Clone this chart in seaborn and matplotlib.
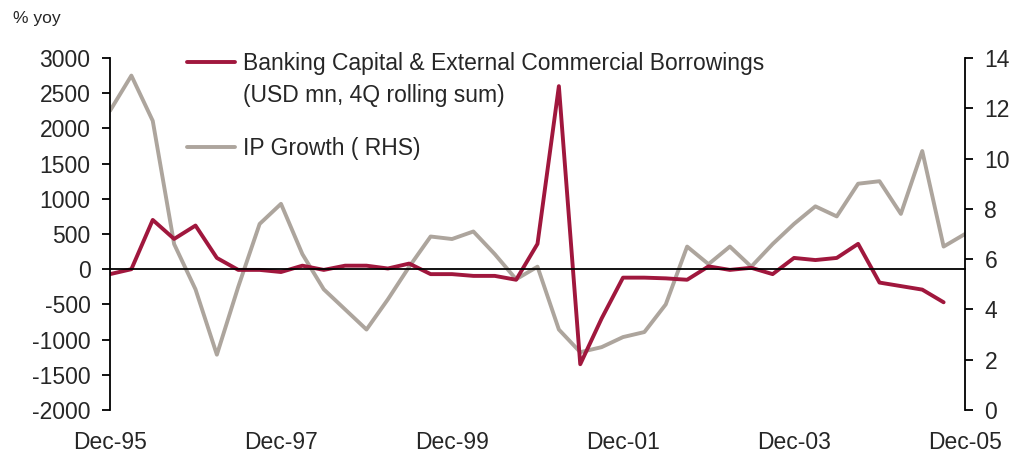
import matplotlib
matplotlib.use("Agg")
import matplotlib.pyplot as plt
from matplotlib.lines import Line2D
import seaborn as sns
import pandas as pd
import numpy as np

# Data: quarterly, Dec-95 .. Dec-05
tick_labels = ["Dec-95", "Dec-97", "Dec-99", "Dec-01", "Dec-03", "Dec-05"]
banking_ecb = [-70, 0, 700, 430, 620, 160, -10, -10, -40, 50,
               -10, 50, 50, 10, 80, -70, -70, -95, -95, -150,
               360, 2600, -1350, -700, -120, -120, -130, -150, 40, -10,
               20, -70, 160, 130, 160, 360, -190, -240, -290, -470]
ip_growth = [11.9, 13.3, 11.5, 6.6, 4.8, 2.2, 4.9, 7.4, 8.2, 6.2,
             4.8, 4.0, 3.2, 4.4, 5.7, 6.9, 6.8, 7.1, 6.2, 5.2,
             5.7, 3.2, 2.3, 2.5, 2.9, 3.1, 4.2, 6.5, 5.8, 6.5,
             5.7, 6.6, 7.4, 8.1, 7.7, 9.0, 9.1, 7.8, 10.3, 6.5,
             7.0]

red_label_1 = "Banking Capital & External Commercial Borrowings"
red_label_2 = "(USD mn, 4Q rolling sum)"
gray_label = "IP Growth ( RHS)"

RED = "#A0173D"
GRAY = "#ADA59D"

sns.set_style("white")
plt.rcParams["font.family"] = ["Liberation Sans", "DejaVu Sans"]
plt.rcParams["axes.unicode_minus"] = False

df_red = pd.DataFrame({"q": np.arange(len(banking_ecb)), "v": banking_ecb})
df_gray = pd.DataFrame({"q": np.arange(len(ip_growth)), "v": ip_growth})

fig = plt.figure(figsize=(10.26, 4.57), dpi=100)
ax = fig.add_axes([110/1026, 1-410/457, (965-110)/1026, (410-58)/457])
ax2 = ax.twinx()

lw = 2.8
sns.lineplot(data=df_gray, x="q", y="v", ax=ax2, color=GRAY, linewidth=lw)
sns.lineplot(data=df_red, x="q", y="v", ax=ax, color=RED, linewidth=lw)
ax.set_zorder(ax2.get_zorder() + 1)
ax.patch.set_visible(False)

n = len(ip_growth) - 1
ax.set_xlim(0, n)
ax.set_ylim(-2000, 3000)
ax.set_yticks(np.arange(-2000, 3001, 500))
ax2.set_ylim(0, 14)
ax2.set_yticks(np.arange(0, 15, 2))
for a in (ax, ax2):
    a.set_xlabel("")
    a.set_ylabel("")

fs = 16.5
for s in ["top", "right"]:
    ax.spines[s].set_visible(False)
for s in ["top", "left", "bottom"]:
    ax2.spines[s].set_visible(False)
ax.spines["left"].set_color("black")
ax.spines["left"].set_linewidth(1.3)
ax2.spines["right"].set_color("black")
ax2.spines["right"].set_linewidth(1.3)

# x axis drawn at zero
ax.spines["bottom"].set_position(("data", 0))
ax.spines["bottom"].set_color("black")
ax.spines["bottom"].set_linewidth(1.3)
xt = np.arange(0, n + 1, 8)
ax.set_xticks(xt)
ax.tick_params(axis="x", direction="out", length=6, width=1.3, color="black",
               labelbottom=False)
ax.tick_params(axis="y", direction="out", length=6, width=1.3, color="black",
               labelsize=fs, pad=8, left=True)
ax2.tick_params(axis="y", direction="out", length=6, width=1.3, color="black",
                labelsize=fs, pad=8, right=True)

sec = ax.secondary_xaxis("bottom")
sec.set_xticks(xt)
sec.set_xticklabels(tick_labels)
sec.spines["bottom"].set_visible(False)
sec.tick_params(axis="x", length=0, labelsize=fs, pad=15)

fig.text(13/1026, 1-19/457, "% yoy", fontsize=12.5, va="center", ha="left")

h_red = Line2D([], [], color=RED, linewidth=lw)
h_blank = Line2D([], [], color="none")
h_gray = Line2D([], [], color=GRAY, linewidth=lw)
common = dict(loc="upper left", bbox_transform=fig.transFigure, frameon=False,
              fontsize=fs, handlelength=2.1, handletextpad=0.35, borderpad=0,
              borderaxespad=0)
leg1 = ax.legend([h_red, h_blank], [red_label_1, red_label_2],
                 bbox_to_anchor=(187/1026, 1-52/457), labelspacing=0.4, **common)
ax.add_artist(leg1)
leg2 = ax.legend([h_gray], [gray_label],
                 bbox_to_anchor=(187/1026, 1-137/457), **common)

fig.savefig("out.png", dpi=100)
